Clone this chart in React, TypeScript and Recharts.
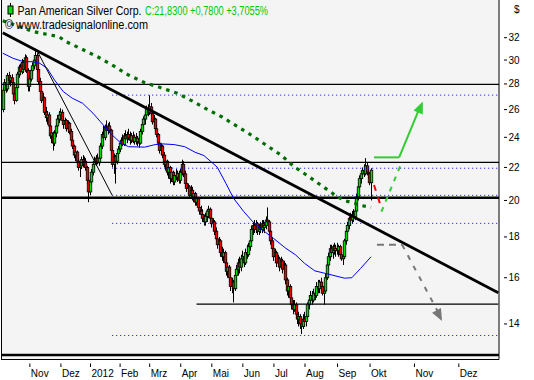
import {
  ComposedChart,
  XAxis,
  YAxis,
  Bar,
  Line,
  ReferenceLine,
  ReferenceDot,
} from 'recharts'

// daily candles [open, high, low, close], one array per month
const OCT11 = [
  [26.0, 27.7, 25.8, 27.5], [27.5, 28.4, 27.2, 28.1], [28.1, 28.5, 27.3, 27.6], [27.6, 28.9, 27.4, 28.7],
  [28.7, 29.0, 28.0, 28.3], [28.3, 28.7, 27.8, 28.5], [28.5, 28.8, 27.9, 28.1], [28.1, 28.4, 26.9, 27.2],
  [27.2, 27.4, 26.4, 26.7], [26.7, 27.9, 26.6, 27.7], [27.7, 29.0, 27.5, 28.8], [28.8, 29.6, 28.5, 29.4],
  [29.4, 29.7, 28.7, 29.0], [29.0, 30.1, 28.8, 29.8], [29.8, 30.0, 28.9, 29.2], [29.2, 30.5, 29.0, 30.2],
  [30.2, 30.4, 28.9, 29.1], [29.1, 29.3, 27.4, 27.8],
]
const NOV11 = [
  [27.8, 28.6, 27.4, 28.4], [28.4, 29.3, 28.2, 29.1], [29.1, 29.8, 28.6, 29.5], [29.5, 30.3, 29.2, 30.0],
  [30.0, 31.0, 29.6, 30.4], [30.4, 30.6, 29.0, 29.2], [29.2, 29.4, 28.0, 28.2], [28.2, 28.5, 27.2, 27.4],
  [27.4, 27.6, 26.5, 26.7], [26.7, 27.3, 26.2, 26.9], [26.9, 27.0, 25.6, 25.8], [25.8, 26.2, 25.1, 25.4],
  [25.4, 25.9, 24.9, 25.6], [25.6, 25.8, 24.6, 24.8], [24.8, 25.0, 23.9, 24.1], [24.1, 24.6, 23.6, 24.3],
  [24.3, 24.4, 23.1, 23.6], [23.6, 24.5, 23.4, 24.3], [24.3, 25.0, 24.0, 24.8], [24.8, 25.6, 24.5, 25.3],
  [25.3, 25.9, 25.0, 25.6],
]
const DEC11 = [
  [25.6, 26.1, 25.2, 25.8], [25.8, 26.0, 25.0, 25.2], [25.2, 25.5, 24.6, 24.9], [24.9, 25.4, 24.6, 25.2],
  [25.2, 25.3, 24.4, 24.6], [24.6, 25.2, 24.3, 25.0], [25.0, 25.1, 24.2, 24.4], [24.4, 24.6, 23.6, 23.8],
  [23.8, 24.1, 23.2, 23.4], [23.4, 23.5, 22.6, 22.8], [22.8, 23.2, 22.4, 23.0], [23.0, 23.1, 22.2, 22.4],
  [22.4, 22.6, 21.8, 22.0], [22.0, 22.3, 21.4, 22.1], [22.1, 22.7, 21.9, 22.5], [22.5, 22.8, 22.0, 22.2],
  [22.2, 22.7, 22.0, 22.4], [22.4, 22.6, 21.8, 22.0], [22.0, 22.1, 21.0, 21.2], [21.2, 21.4, 19.9, 20.5],
]
const JAN12 = [
  [20.5, 21.3, 20.3, 21.1], [21.1, 21.9, 20.9, 21.7], [21.7, 22.4, 21.5, 22.2], [22.2, 22.7, 22.0, 22.4],
  [22.4, 22.8, 22.1, 22.6], [22.6, 22.9, 22.2, 22.3], [22.3, 22.8, 22.1, 22.6], [22.6, 23.6, 22.5, 23.4],
  [23.4, 24.4, 23.2, 24.2], [24.2, 24.8, 23.7, 24.0], [24.0, 24.9, 23.8, 24.7], [24.7, 25.2, 24.3, 24.5],
  [24.5, 25.0, 24.2, 24.8], [24.8, 25.1, 24.3, 24.5], [24.5, 24.6, 22.9, 23.1], [23.1, 23.3, 22.0, 22.2],
  [22.2, 22.9, 21.6, 22.7], [22.7, 22.8, 21.0, 22.4], [22.4, 23.0, 22.2, 22.9], [22.9, 23.4, 22.6, 23.2],
]
const FEB12 = [
  [23.2, 23.8, 23.0, 23.6], [23.6, 24.0, 23.3, 23.8], [23.8, 24.2, 23.4, 23.5], [23.5, 24.3, 23.4, 24.1],
  [24.1, 24.5, 23.7, 23.9], [23.9, 24.4, 23.6, 24.2], [24.2, 24.6, 23.8, 24.0], [24.0, 24.4, 23.5, 23.8],
  [23.8, 24.3, 23.6, 24.1], [24.1, 24.4, 23.6, 23.7], [23.7, 24.2, 23.5, 24.0], [24.0, 24.3, 23.5, 23.7],
  [23.7, 24.1, 23.4, 23.9], [23.9, 24.2, 23.3, 23.6], [23.6, 24.6, 23.5, 24.4], [24.4, 25.1, 24.2, 24.9],
  [24.9, 25.5, 24.6, 25.3], [25.3, 25.8, 24.9, 25.6], [25.6, 26.3, 25.3, 26.0], [26.0, 26.4, 25.5, 25.8],
]
const MAR12 = [
  [25.8, 27.1, 25.6, 26.2], [26.2, 26.5, 25.5, 25.7], [25.7, 25.9, 24.9, 25.1], [25.1, 25.6, 24.8, 25.3],
  [25.3, 25.4, 24.4, 24.6], [24.6, 24.9, 24.0, 24.2], [24.2, 24.3, 23.4, 23.6], [23.6, 23.9, 22.9, 23.1],
  [23.1, 23.6, 22.8, 23.4], [23.4, 23.5, 22.6, 22.8], [22.8, 23.0, 22.0, 22.2], [22.2, 22.6, 21.8, 22.4],
  [22.4, 22.5, 21.5, 21.7], [21.7, 22.2, 21.3, 22.0], [22.0, 22.1, 21.0, 21.3], [21.3, 21.9, 21.1, 21.7],
  [21.7, 21.8, 20.9, 21.1], [21.1, 21.7, 20.9, 21.5], [21.5, 21.9, 21.2, 21.4], [21.4, 21.8, 21.1, 21.6],
  [21.6, 21.8, 21.0, 21.2],
]
const APR12 = [
  [21.2, 21.9, 21.0, 21.7], [21.7, 22.5, 21.5, 22.2], [22.2, 22.4, 21.4, 21.6], [21.6, 21.8, 20.8, 21.0],
  [21.0, 21.3, 20.5, 20.7], [20.7, 21.0, 20.3, 20.8], [20.8, 20.9, 20.1, 20.3], [20.3, 20.9, 20.1, 20.6],
  [20.6, 20.8, 20.0, 20.2], [20.2, 20.6, 19.9, 20.4], [20.4, 20.5, 19.7, 19.9], [19.9, 20.3, 19.7, 20.1],
  [20.1, 20.2, 19.4, 19.6], [19.6, 19.9, 19.2, 19.4], [19.4, 19.7, 19.0, 19.2], [19.2, 19.5, 18.8, 19.0],
  [19.0, 19.2, 18.6, 18.8], [18.8, 19.3, 18.6, 19.1], [19.1, 19.5, 18.8, 19.4], [19.4, 19.7, 19.0, 19.5],
  [19.5, 19.6, 18.8, 19.0],
]
const MAY12 = [
  [19.0, 19.2, 18.5, 18.7], [18.7, 19.0, 18.3, 18.8], [18.8, 18.9, 18.1, 18.3], [18.3, 18.5, 17.7, 17.9],
  [17.9, 18.2, 17.4, 17.6], [17.6, 18.0, 17.3, 17.8], [17.8, 17.9, 17.0, 17.2], [17.2, 17.5, 16.8, 17.0],
  [17.0, 17.4, 16.7, 17.2], [17.2, 17.3, 16.5, 16.7], [16.7, 16.9, 16.1, 16.3], [16.3, 16.7, 16.0, 16.5],
  [16.5, 16.6, 15.8, 16.0], [16.0, 16.2, 15.4, 15.6], [15.6, 16.0, 15.3, 15.8], [15.8, 15.9, 14.9, 15.5],
  [15.5, 16.3, 15.4, 16.1], [16.1, 16.6, 15.8, 16.4], [16.4, 16.9, 16.1, 16.7], [16.7, 17.0, 16.2, 16.5],
  [16.5, 17.1, 16.3, 16.9],
]
const JUN12 = [
  [16.9, 17.3, 16.6, 17.0], [17.0, 17.2, 16.5, 16.7], [16.7, 17.4, 16.6, 17.2], [17.2, 17.6, 16.9, 17.1],
  [17.1, 17.7, 17.0, 17.5], [17.5, 18.0, 17.3, 17.8], [17.8, 18.6, 17.7, 18.4], [18.4, 18.8, 18.1, 18.6],
  [18.6, 18.9, 18.2, 18.4], [18.4, 18.9, 18.2, 18.7], [18.7, 18.8, 18.1, 18.3], [18.3, 18.7, 18.1, 18.5],
  [18.5, 18.8, 18.2, 18.4], [18.4, 18.9, 18.2, 18.7], [18.7, 18.9, 18.3, 18.5], [18.5, 18.8, 18.2, 18.6],
  [18.6, 19.1, 18.4, 18.9], [18.9, 19.6, 18.6, 18.8], [18.8, 18.9, 18.1, 18.3], [18.3, 18.4, 17.6, 17.8],
  [17.8, 18.0, 17.2, 17.4],
]
const JUL12 = [
  [17.4, 17.6, 16.8, 17.0], [17.0, 17.4, 16.7, 17.2], [17.2, 17.3, 16.5, 16.7], [16.7, 17.1, 16.5, 16.9],
  [16.9, 17.0, 16.3, 16.5], [16.5, 17.0, 16.4, 16.8], [16.8, 16.9, 16.2, 16.4], [16.4, 16.8, 16.2, 16.6],
  [16.6, 16.7, 15.7, 15.9], [15.9, 16.0, 15.2, 15.4], [15.4, 15.8, 15.1, 15.6], [15.6, 15.7, 14.9, 15.1],
  [15.1, 15.3, 14.6, 14.8], [14.8, 15.0, 14.4, 14.6], [14.6, 15.0, 14.5, 14.8], [14.8, 14.9, 14.2, 14.4],
  [14.4, 14.6, 14.0, 14.2], [14.2, 14.5, 13.9, 14.3], [14.3, 14.4, 13.8, 14.0], [14.0, 14.2, 13.6, 13.9],
  [13.9, 14.4, 13.8, 14.2],
]
const AUG12 = [
  [14.2, 14.5, 13.9, 14.1], [14.1, 14.4, 13.9, 14.3], [14.3, 14.9, 14.2, 14.8], [14.8, 15.2, 14.6, 15.0],
  [15.0, 15.4, 14.8, 15.2], [15.2, 15.4, 14.8, 15.0], [15.0, 15.5, 14.9, 15.3], [15.3, 15.5, 15.0, 15.2],
  [15.2, 15.8, 15.1, 15.6], [15.6, 15.9, 15.3, 15.5], [15.5, 15.9, 15.3, 15.8], [15.8, 16.0, 15.4, 15.6],
  [15.6, 15.8, 15.2, 15.3], [15.3, 15.6, 14.8, 15.4], [15.4, 16.2, 15.3, 16.0], [16.0, 16.8, 15.9, 16.6],
  [16.6, 17.2, 16.4, 17.0], [17.0, 17.6, 16.8, 17.4], [17.4, 17.6, 17.0, 17.2], [17.2, 17.6, 16.9, 17.5],
  [17.5, 17.7, 17.1, 17.3], [17.3, 17.6, 17.0, 17.4],
]
const SEP12 = [
  [17.4, 17.7, 17.1, 17.3], [17.3, 17.6, 17.0, 17.5], [17.5, 17.6, 16.9, 17.1], [17.1, 17.3, 16.8, 16.9],
  [16.9, 17.1, 16.6, 17.0], [17.0, 17.9, 16.9, 17.8], [17.8, 18.5, 17.6, 18.3], [18.3, 18.8, 18.1, 18.6],
  [18.6, 19.1, 18.4, 19.0], [19.0, 19.3, 18.6, 18.9], [18.9, 19.4, 18.7, 19.2], [19.2, 19.5, 18.8, 19.1],
  [19.1, 19.6, 18.9, 19.4], [19.4, 20.4, 19.3, 20.2], [20.2, 21.0, 20.0, 20.8], [20.8, 21.5, 20.6, 21.3],
  [21.3, 21.8, 21.0, 21.6], [21.6, 22.0, 21.3, 21.8], [21.8, 22.2, 21.4, 21.6], [21.6, 22.6, 21.5, 22.1],
  [22.1, 22.3, 21.5, 21.7], [21.7, 21.9, 21.3, 21.6],
]
const OCT12 = [
  [21.6, 21.7, 20.9, 21.05], [21.05, 21.95, 20.0, 21.83],
]

// moving averages, read at sample days [day, value]
const MA_FAST = [
  [0, 30.6], [7, 30.15], [14, 29.86], [20, 29.86], [25, 29.72], [30, 29.3], [35, 28.32], [41, 27.38],
  [47, 26.87], [54, 26.48], [61, 25.73], [66, 25.11], [74, 24.16], [80, 23.59], [85, 23.36], [96, 23.33],
  [103, 23.5], [108, 23.55], [116, 23.5], [123, 23.36], [130, 22.99], [136, 22.77], [145, 22.02],
  [151, 20.99], [156, 20.13], [163, 19.36], [169, 18.81], [174, 18.46], [183, 17.93], [191, 17.44],
  [198, 17.09], [204, 16.68], [211, 16.32], [220, 16.17], [231, 15.98], [236, 16.0], [242, 16.44], [249, 17.0],
]
const MA_SLOW = [
  [0, 33.6], [21, 32.56], [38, 32.09], [43, 31.63], [54, 30.93], [65, 30.22], [75, 29.49], [85, 28.73],
  [96, 28.1], [106, 27.73], [118, 27.26], [129, 26.6], [138, 26.03], [148, 25.47], [158, 24.8],
  [168, 24.16], [178, 23.47], [188, 22.81], [197, 22.05], [207, 21.42], [217, 20.78], [227, 20.18],
  [232, 19.97], [238, 19.84], [243, 19.7], [249, 19.61],
]

const SLOTS = 336
const MONTH_TICKS = [18, 39, 59, 79, 99, 120, 141, 162, 183, 204, 226, 248, 278, 308]
const MONTH_LABELS = ['Nov', 'Dez', '2012', 'Feb', 'Mrz', 'Apr', 'Mai', 'Jun', 'Jul', 'Aug', 'Sep', 'Okt', 'Nov', 'Dez']
const PRICE_TICKS = [14, 16, 18, 20, 22, 24, 26, 28, 30, 32]
const Y_MIN = 12.635
const Y_MAX = 35.68

const THIN_LEVELS = [27.97, 22.33]
const THICK_LEVELS = [20.16, 12.8]
const FIB_LEVELS = [27.11, 21.95, 20.3, 18.72, 13.54]

const GREEN = '#00dd00'
const RED = '#ee0000'
const FONT = '"Liberation Sans", Arial, sans-serif'

const candles = [OCT11, NOV11, DEC11, JAN12, FEB12, MAR12, APR12, MAY12, JUN12, JUL12, AUG12, SEP12, OCT12].flat()
const fast = new Map(MA_FAST.map(([d, v]) => [d, v]))
const slow = new Map(MA_SLOW.map(([d, v]) => [d, v]))

const rows = Array.from({ length: SLOTS }, (_, i) => {
  const k = candles[i]
  return {
    i,
    wick: k ? [k[2], k[1]] : null,
    body: k ? [Math.min(k[0], k[3]), Math.max(k[0], k[3])] : null,
    up: k ? k[3] >= k[0] : false,
    ma50: fast.get(i) ?? null,
    ma200: slow.get(i) ?? null,
  }
})

const Wick = (p: any) => {
  if (!p.payload?.wick) return null
  const cx = Math.round(p.x + p.width / 2) + 0.5
  return <line x1={cx} x2={cx} y1={p.y} y2={p.y + p.height} stroke="#000" strokeWidth={1} />
}

const Body = (p: any) => {
  if (!p.payload?.body) return null
  const cx = Math.round(p.x + p.width / 2)
  const h = Math.max(p.height, 1)
  return (
    <rect
      x={cx - 0.75}
      y={p.y}
      width={2.5}
      height={h}
      fill={p.payload.up ? GREEN : RED}
      stroke="#000"
      strokeWidth={0.8}
    />
  )
}

const MonthTick = (p: any) => {
  const idx = MONTH_TICKS.indexOf(p.payload.value)
  return (
    <g>
      <line x1={p.x + 0.5} x2={p.x + 0.5} y1={p.y + 4} y2={p.y + 7.5} stroke="#000" />
      <text x={p.x + 1.5} y={377} fontSize={10} fontFamily={FONT} fill="#000">
        {MONTH_LABELS[idx]}
      </text>
    </g>
  )
}

const PriceTick = (p: any) => (
  <g>
    <line x1={p.x + 5} x2={p.x + 8} y1={p.y} y2={p.y} stroke="#000" />
    <text x={p.x + 9.5} y={p.y + 3.5} fontSize={10} fontFamily={FONT} fill="#000">
      {p.payload.value}
    </text>
  </g>
)

const arrowHead = (color: string, angle: number) => (p: any) => (
  <polygon points="0,0 -12,-5 -12,5" fill={color} transform={`translate(${p.cx},${p.cy}) rotate(${angle})`} />
)

export default function App() {
  return (
    <div style={{ position: 'absolute', left: 0, top: 0, width: 534, height: 380, background: '#fff' }}>
      <div
        style={{
          position: 'absolute',
          left: 1,
          top: 0,
          width: 498,
          height: 360,
          background: '#f4f4f4',
          borderLeft: '1px solid #000',
          boxSizing: 'border-box',
        }}
      />
      <ComposedChart
        width={534}
        height={380}
        data={rows}
        margin={{ top: 0, right: 0, bottom: 0, left: 2 }}
        style={{ position: 'absolute', left: 0, top: 0 }}
      >
        <XAxis
          xAxisId="a"
          dataKey="i"
          type="category"
          height={20.5}
          ticks={MONTH_TICKS}
          interval={0}
          tick={<MonthTick />}
          tickLine={false}
          tickSize={0}
          tickMargin={0}
          axisLine={{ stroke: '#000' }}
        />
        <XAxis xAxisId="b" dataKey="i" type="category" hide />
        <YAxis
          orientation="right"
          type="number"
          scale="log"
          domain={[Y_MIN, Y_MAX]}
          allowDataOverflow
          ticks={PRICE_TICKS}
          interval={0}
          width={35}
          tick={<PriceTick />}
          tickLine={false}
          tickSize={0}
          tickMargin={0}
          axisLine={{ stroke: '#000' }}
        />

        {THIN_LEVELS.map((v) => (
          <ReferenceLine key={v} xAxisId="a" y={v} stroke="#000" strokeWidth={1.2} />
        ))}
        {THICK_LEVELS.map((v) => (
          <ReferenceLine key={v} xAxisId="a" y={v} stroke="#000" strokeWidth={2.6} />
        ))}
        <ReferenceLine xAxisId="a" segment={[{ x: 131, y: 14.83 }, { x: 335, y: 14.83 }]} stroke="#000" strokeWidth={1.2} />
        {FIB_LEVELS.map((v) => (
          <ReferenceLine
            key={v}
            xAxisId="a"
            segment={[{ x: 74, y: v }, { x: 335, y: v }]}
            stroke="#0000ff"
            strokeWidth={1}
            strokeDasharray="1 3"
          />
        ))}

        <Bar xAxisId="a" dataKey="wick" shape={Wick} isAnimationActive={false} />
        <Bar xAxisId="b" dataKey="body" shape={Body} isAnimationActive={false} />

        <Line
          xAxisId="a"
          dataKey="ma50"
          stroke="#0000ff"
          strokeWidth={1}
          dot={false}
          connectNulls
          isAnimationActive={false}
        />
        <Line
          xAxisId="a"
          dataKey="ma200"
          stroke="#006e00"
          strokeWidth={3.2}
          strokeDasharray="3.5 5"
          dot={false}
          connectNulls
          isAnimationActive={false}
        />

        <ReferenceLine xAxisId="a" segment={[{ x: 0, y: 32.45 }, { x: 335, y: 15.32 }]} stroke="#000" strokeWidth={2.8} />
        <ReferenceLine xAxisId="a" segment={[{ x: 23, y: 30.88 }, { x: 74, y: 20.3 }]} stroke="#000" strokeWidth={1} />

        <ReferenceLine xAxisId="a" segment={[{ x: 251, y: 22.65 }, { x: 268, y: 22.65 }]} stroke="#33cc33" strokeWidth={2} />
        <ReferenceLine xAxisId="a" segment={[{ x: 268, y: 22.65 }, { x: 281, y: 25.9 }]} stroke="#33cc33" strokeWidth={2} />
        <ReferenceDot xAxisId="a" x={284} y={26.62} r={0} shape={arrowHead('#33cc33', -67.2)} />

        <ReferenceLine
          xAxisId="a"
          segment={[{ x: 256, y: 19.36 }, { x: 269, y: 22.16 }]}
          stroke="#33cc33"
          strokeWidth={2}
          strokeDasharray="5 6"
        />
        <ReferenceLine
          xAxisId="a"
          segment={[{ x: 251, y: 20.91 }, { x: 255, y: 19.83 }]}
          stroke="#ee0000"
          strokeWidth={2}
          strokeDasharray="6 7"
        />

        <ReferenceLine
          xAxisId="a"
          segment={[{ x: 253, y: 17.6 }, { x: 270, y: 17.6 }]}
          stroke="#777"
          strokeWidth={2}
          strokeDasharray="7 5"
        />
        <ReferenceLine
          xAxisId="a"
          segment={[{ x: 270, y: 17.6 }, { x: 295, y: 14.41 }]}
          stroke="#777"
          strokeWidth={2}
          strokeDasharray="5 7"
        />
        <ReferenceDot xAxisId="a" x={297} y={14.12} r={0} shape={arrowHead('#777', 62.5)} />
      </ComposedChart>

      <svg width={534} height={40} style={{ position: 'absolute', left: 0, top: 0 }} fontFamily={FONT}>
        <line x1={10.5} x2={10.5} y1={3} y2={17} stroke="#000" />
        <rect x={8} y={6} width={5} height={8} fill={GREEN} stroke="#000" />
        <text x={17.5} y={15} fontSize={12} textLength={124} lengthAdjust="spacingAndGlyphs" fill="#000">
          Pan American Silver Corp.
        </text>
        <text x={145} y={15} fontSize={12} textLength={123} lengthAdjust="spacingAndGlyphs" fill="#00c800">
          C:21,8300 +0,7800 +3,7055%
        </text>
        <text x={5} y={29} fontSize={12} textLength={143} lengthAdjust="spacingAndGlyphs" fill="#000">
          © www.tradesignalonline.com
        </text>
        <text x={514} y={13} fontSize={10} fill="#000">
          $
        </text>
      </svg>
    </div>
  )
}
